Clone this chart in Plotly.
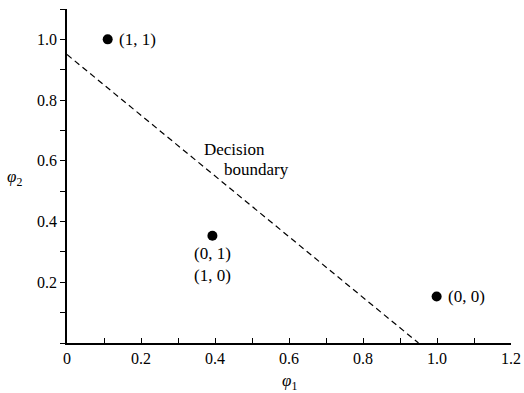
import plotly.graph_objects as go

# Data points (phi1, phi2) and their labels
phi1_vals = [0.11, 0.393, 0.999]
phi2_vals = [1.0, 0.353, 0.153]
point_labels = ["(1, 1)", "(0, 1)<br>(1, 0)", "(0, 0)"]

# Decision boundary endpoints
boundary_x = [0.0, 0.95]
boundary_y = [0.95, 0.0]

x_tickvals = [0, 0.2, 0.4, 0.6, 0.8, 1.0, 1.2]
x_ticktext = ["0", "0.2", "0.4", "0.6", "0.8", "1.0", "1.2"]
y_tickvals = [0.2, 0.4, 0.6, 0.8, 1.0]
y_ticktext = ["0.2", "0.4", "0.6", "0.8", "1.0"]

FONT = "Liberation Serif"
LBL = dict(family=FONT, size=17, color="black")

fig = go.Figure()
fig.add_trace(go.Scatter(x=boundary_x, y=boundary_y, mode="lines",
                         line=dict(color="black", width=1.2, dash="6px,4px"),
                         hoverinfo="skip"))
fig.add_trace(go.Scatter(x=phi1_vals, y=phi2_vals, mode="markers",
                         marker=dict(color="black", size=10)))

# labels
fig.add_annotation(x=phi1_vals[0], y=phi2_vals[0], text=point_labels[0],
                   xanchor="left", yanchor="middle", xshift=9, showarrow=False,
                   font=LBL)
fig.add_annotation(x=phi1_vals[1], y=phi2_vals[1], text=point_labels[1],
                   xanchor="center", yanchor="top", yshift=-6, showarrow=False,
                   font=LBL)
fig.add_annotation(x=phi1_vals[2], y=phi2_vals[2], text=point_labels[2],
                   xanchor="left", yanchor="middle", xshift=9, showarrow=False,
                   font=LBL)
fig.add_annotation(x=0.365, y=0.636, text="Decision", xanchor="left",
                   yanchor="middle", showarrow=False, font=LBL)
fig.add_annotation(x=0.42, y=0.573, text="boundary", xanchor="left",
                   yanchor="middle", showarrow=False, font=LBL)

# axis titles
fig.add_annotation(xref="paper", yref="paper", x=0.502, y=-0.117,
                   text="<i>φ</i><sub>1</sub>", xanchor="center",
                   yanchor="middle", showarrow=False, font=LBL)
fig.add_annotation(xref="paper", yref="paper", x=-0.119, y=0.494,
                   text="<i>φ</i><sub>2</sub>", xanchor="center",
                   yanchor="middle", showarrow=False, font=LBL)

fig.update_layout(
    width=524, height=393,
    margin=dict(l=67, r=13, t=9, b=50),
    paper_bgcolor="white", plot_bgcolor="white",
    showlegend=False,
    font=dict(family=FONT, size=16, color="black"),
    xaxis=dict(range=[0, 1.2], tickvals=x_tickvals, ticktext=x_ticktext,
               automargin=False, ticklabeloverflow="allow",
               showgrid=False, zeroline=False, showline=True, linecolor="black",
               linewidth=1.5, ticks="inside", ticklen=5, tickcolor="black",
               minor=dict(tick0=0, dtick=0.1, ticks="inside", ticklen=5,
                          tickcolor="black", showgrid=False)),
    yaxis=dict(range=[0, 1.1], tickvals=y_tickvals, ticktext=y_ticktext,
               automargin=False, ticklabeloverflow="allow",
               showgrid=False, zeroline=False, showline=True, linecolor="black",
               linewidth=1.5, ticks="outside", ticklen=5, tickcolor="black",
               minor=dict(tick0=0, dtick=0.1, ticks="outside", ticklen=5,
                          tickcolor="black", showgrid=False)),
)

# remove the default page margin so the 524x393 figure fills the window exactly
fig.write_html("out.html",
               config={"displayModeBar": False},
               post_script="document.body.style.margin='0';"
                           "document.body.style.overflow='hidden';")
